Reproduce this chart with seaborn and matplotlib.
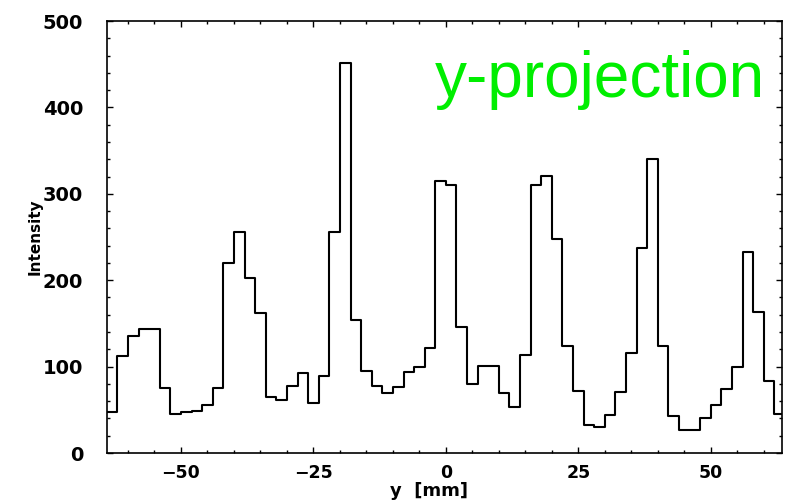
import numpy as np
import pandas as pd
import matplotlib
matplotlib.use("Agg")
import matplotlib.pyplot as plt
from matplotlib.ticker import MultipleLocator
import seaborn as sns

# bin centres of the y-projection (mm), 2 mm bins
bin_centers = [-63, -61, -59, -57, -55, -53, -51, -49, -47, -45, -43, -41, -39, -37, -35, -33,
               -31, -29, -27, -25, -23, -21, -19, -17, -15, -13, -11, -9, -7, -5, -3, -1,
               1, 3, 5, 7, 9, 11, 13, 15, 17, 19, 21, 23, 25, 27, 29, 31,
               33, 35, 37, 39, 41, 43, 45, 47, 49, 51, 53, 55, 57, 59, 61, 63]

# intensity per bin
intensity = [47, 112, 135, 144, 143, 75, 45, 47, 49, 56, 75, 220, 256, 202, 162, 65,
             61, 77, 93, 58, 89, 256, 452, 154, 95, 78, 70, 76, 94, 99, 121, 315,
             310, 146, 80, 101, 101, 70, 53, 113, 310, 321, 248, 124, 72, 32, 30, 44,
             71, 116, 237, 340, 124, 43, 27, 27, 41, 56, 74, 100, 233, 163, 83, 45]

df = pd.DataFrame({"y": bin_centers, "Intensity": intensity})

sns.set_theme(style="ticks")
plt.rcParams["font.family"] = ["DejaVu Sans"]
plt.rcParams["text.color"] = "black"
plt.rcParams["axes.labelcolor"] = "black"
plt.rcParams["xtick.color"] = "black"
plt.rcParams["ytick.color"] = "black"

fig = plt.figure(figsize=(7.85, 5.01), dpi=100)
ax = fig.add_axes([0.136, 0.0958, 0.86, 0.8622])

sns.histplot(data=df, x="y", weights="Intensity", bins=64, binrange=(-64, 64),
             element="step", fill=False, color="black", linewidth=1.5, ax=ax)

ax.set_xlim(-64, 63.4)
ax.set_ylim(0, 500)
ax.xaxis.set_major_locator(MultipleLocator(25))
ax.xaxis.set_minor_locator(MultipleLocator(5))
ax.yaxis.set_major_locator(MultipleLocator(100))
ax.yaxis.set_minor_locator(MultipleLocator(20))

ax.tick_params(which="both", direction="in", top=True, right=True, width=1,
               color="black", labelcolor="black")
ax.tick_params(which="major", length=4.5)
ax.tick_params(which="minor", length=2.2)
ax.tick_params(axis="x", which="major", pad=8, labelsize=12.5)
ax.tick_params(axis="y", which="major", pad=17, labelsize=14)
for lab in ax.get_xticklabels() + ax.get_yticklabels():
    lab.set_fontweight("bold")

for sp in ax.spines.values():
    sp.set_visible(True)
    sp.set_linewidth(1.2)
    sp.set_color("black")

ax.set_xlabel("y  [mm]", fontsize=13, fontweight="bold")
ax.set_ylabel("Intensity", fontsize=11, fontweight="bold")
ax.xaxis.set_label_coords(0.478, -0.068)
ax.yaxis.set_label_coords(-0.095, 0.5)

ax.text(0.486, 0.824, "y-projection", transform=ax.transAxes, color="#00ee00",
        fontsize=46, family=["Liberation Sans", "DejaVu Sans"], va="baseline", ha="left")

fig.savefig("out.png", dpi=100)
